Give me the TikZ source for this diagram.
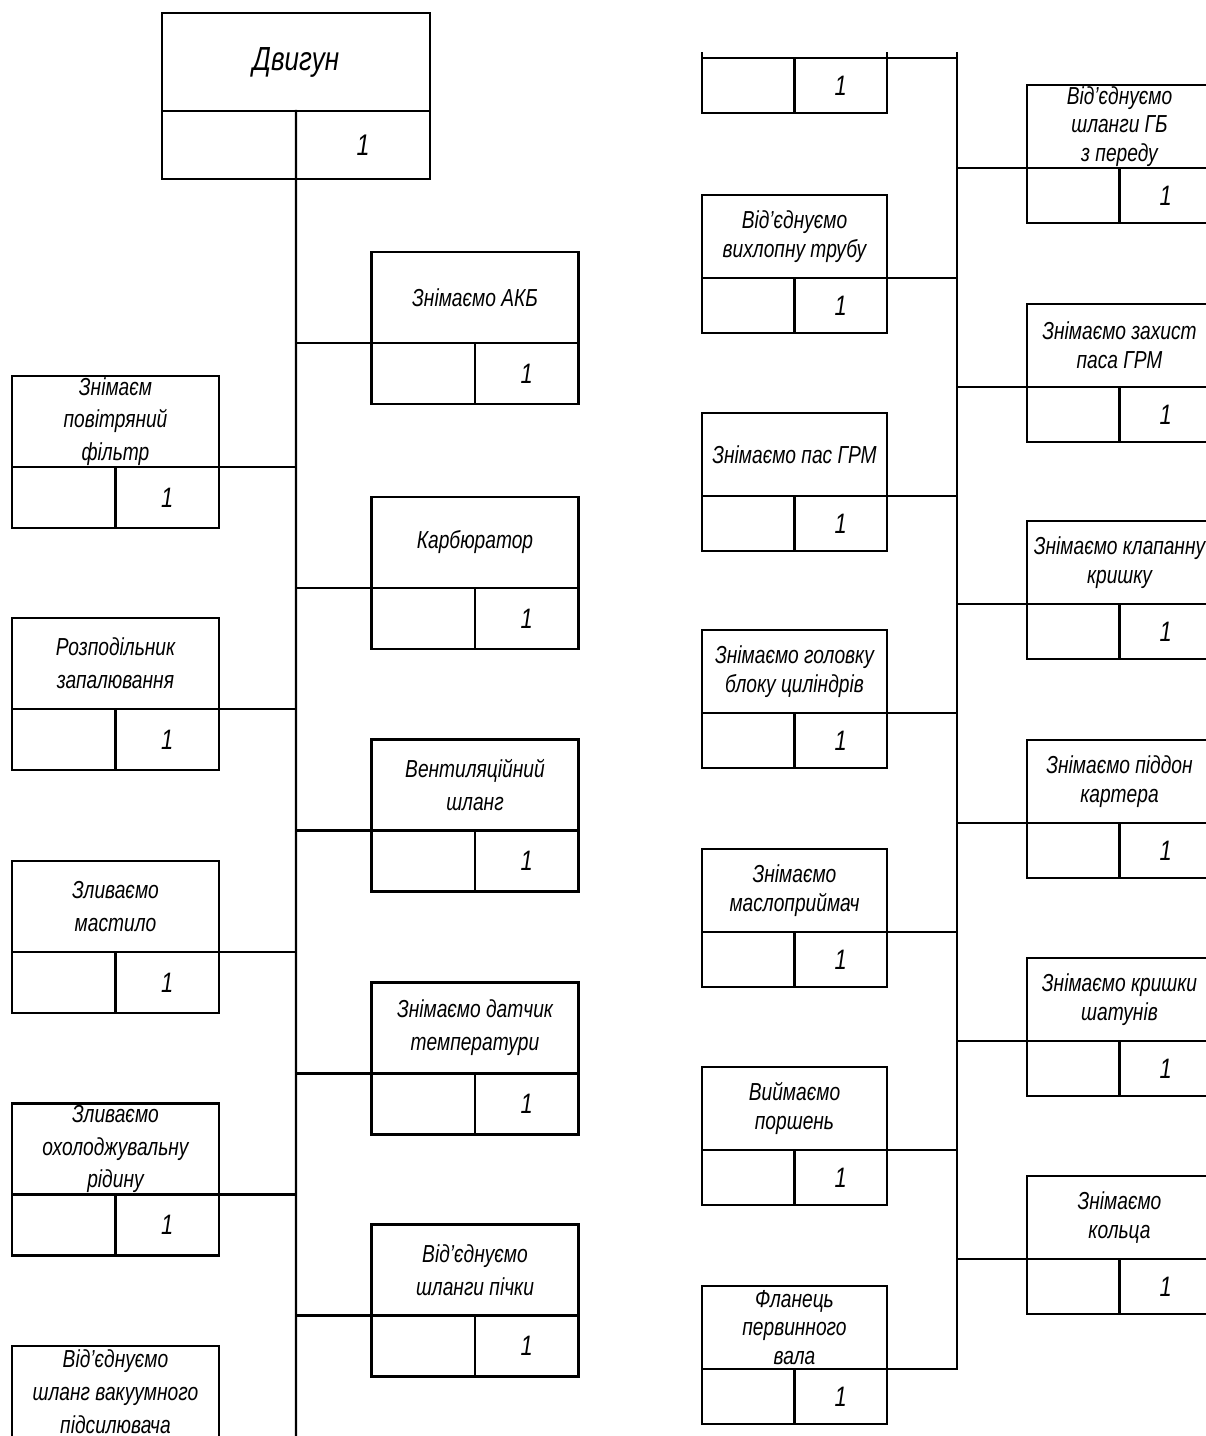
\documentclass[tikz,border=0pt]{standalone}
\usepackage{fontspec}
\usepackage{tikz}
\usetikzlibrary{positioning, calc}
\newfontfamily\gost{Liberation Sans}[FakeStretch=0.78]
\tikzset{
  op-top-a/.style={
    rectangle, draw, outer sep=0pt, inner sep=0pt,
    minimum width=4.14cm, minimum height=1.82cm, align=center,
    font=\gost\itshape\fontsize{14}{18.7}\selectfont
  },
  op-low-a/.style={
    rectangle, draw, outer sep=0pt, inner sep=0pt,
    minimum width=2.07cm, minimum height=1.22cm,
    font=\gost\itshape\fontsize{16}{18}\selectfont
  },
  op-top-b/.style={op-top-a, minimum width=3.7cm, minimum height=1.66cm,
    font=\gost\itshape\fontsize{14}{16.3}\selectfont},
  op-low-b/.style={op-low-a, minimum width=1.85cm, minimum height=1.1cm},
  op-top-d/.style={op-top-a, minimum width=5.36cm, minimum height=1.96cm,
    font=\gost\itshape\fontsize{19}{21}\selectfont},
  op-low-d/.style={op-low-a, minimum width=2.68cm, minimum height=1.36cm,
    font=\gost\itshape\fontsize{17}{19}\selectfont},
  op-link/.style={draw, line cap=rect},
}
% one card: [count], name, size suffix, centre of the text cell, text
\newcommand{\opcard}[5][1]{%
  \node[op-top-#3] (#2) at (#4) {#5};
  \node[op-low-#3, anchor=north west] (#2-l) at (#2.south west) {};
  \node[op-low-#3, anchor=north east] (#2-r) at (#2.south east) {#1};
}

\begin{document}
\begin{tikzpicture}[x=0.02cm, y=-0.02cm, line width=1.3pt]
  \useasboundingbox (0,0) rectangle (1206,1436);
  \clip (0,0) rectangle (1206,1436);

  % left sheet
  \opcard{dvyhun}{d}{296,62}{Двигун}
  \opcard{akb}{a}{475,297.5}{Знімаємо АКБ}
  \opcard{karb}{a}{475,542.5}{Карбюратор}
  \opcard{vent}{a}{475,785}{Вентиляційний\\шланг}
  \opcard{datchyk}{a}{475,1028}{Знімаємо датчик\\температури}
  \opcard{pichka}{a}{475,1270}{Від’єднуємо\\шланги пічки}
  \opcard{filtr}{a}{115.5,421.5}{Знімаєм\\повітряний\\фільтр}
  \opcard{rozpod}{a}{115.5,663.5}{Розподільник\\запалювання}
  \opcard{mastylo}{a}{115.5,906.5}{Зливаємо\\мастило}
  \opcard{ridyna}{a}{115.5,1149}{Зливаємо\\охолоджувальну\\рідину}
  \opcard[]{vakuum}{a}{115.5,1391.5}{Від’єднуємо\\шланг вакуумного\\підсилювача}

  \coordinate (trunkL-end) at (296,1450);
  \draw[op-link] (dvyhun-l.north east) -- (trunkL-end);
  \foreach \n in {akb, karb, vent, datchyk, pichka}
    \draw[op-link] (\n.south west) -- (\n.south west -| trunkL-end);
  \foreach \n in {filtr, rozpod, mastylo, ridyna, vakuum}
    \draw[op-link] (\n.south east) -- (\n.south east -| trunkL-end);

  % right sheet
  \begin{scope}
    \clip (640,53) rectangle (1210,1440);
    \opcard{prev}{b}{794.5,16.5}{}
    \opcard{vykhlop}{b}{794.5,236.5}{Від’єднуємо\\вихлопну трубу}
    \opcard{pasgrm}{b}{794.5,454.5}{Знімаємо пас ГРМ}
    \opcard{holovka}{b}{794.5,671.5}{Знімаємо головку\\блоку циліндрів}
    \opcard{maslo}{b}{794.5,890.5}{Знімаємо\\маслоприймач}
    \opcard{porshen}{b}{794.5,1108.5}{Виймаємо\\поршень}
    \opcard{flanets}{b}{794.5,1327.5}{Фланець\\первинного\\вала}
    \opcard{shlanhy}{b}{1119.5,126.5}{Від’єднуємо\\шланги ГБ\\з переду}
    \opcard{zakhyst}{b}{1119.5,345.5}{Знімаємо захист\\паса ГРМ}
    \opcard{klapan}{b}{1119.5,562.5}{Знімаємо клапанну\\кришку}
    \opcard{piddon}{b}{1119.5,781.5}{Знімаємо піддон\\картера}
    \opcard{shatun}{b}{1119.5,999.5}{Знімаємо кришки\\шатунів}
    \opcard{kiltsa}{b}{1119.5,1217.5}{Знімаємо\\кольца}

    \coordinate (trunkR-top) at (957,40);
    \draw[op-link] (trunkR-top) |- (flanets.south east);
    \foreach \n in {prev, vykhlop, pasgrm, holovka, maslo, porshen}
      \draw[op-link] (\n.south east) -- (\n.south east -| trunkR-top);
    \foreach \n in {shlanhy, zakhyst, klapan, piddon, shatun, kiltsa}
      \draw[op-link] (\n.south west) -- (\n.south west -| trunkR-top);
  \end{scope}
\end{tikzpicture}
\end{document}
